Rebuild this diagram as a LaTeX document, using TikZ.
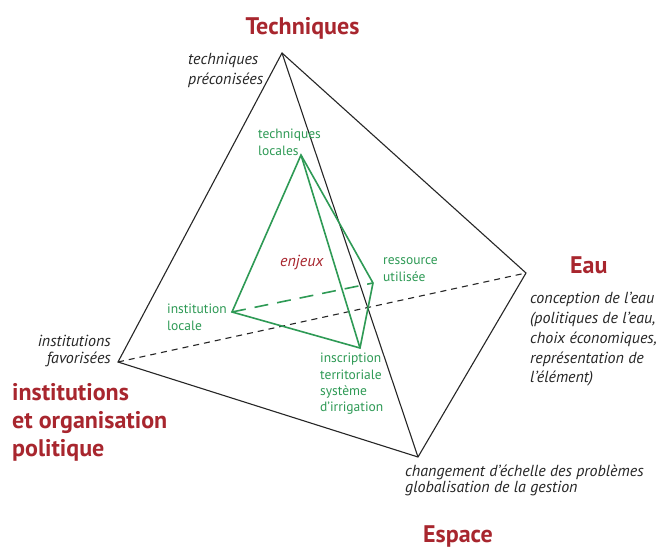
\documentclass[tikz,border=0pt]{standalone}
\usepackage{fontspec}
\setmainfont{PT Sans}
\definecolor{tred}{HTML}{A8262E}
\definecolor{tgreen}{HTML}{2E9A55}
\newcommand\blockL[1]{\begin{tabular}[t]{@{}l@{}}#1\end{tabular}}
\newcommand\blockR[1]{\begin{tabular}[t]{@{}r@{}}#1\end{tabular}}
\tikzset{
  titletext/.style={font=\fontsize{24}{28}\selectfont\bfseries, text=tred, inner sep=0pt},
  italtext/.style={font=\fontsize{16}{17}\selectfont\itshape, text=black!85, inner sep=0pt},
  greentext/.style={font=\fontsize{13.5}{16.3}\selectfont, text=tgreen, inner sep=0pt},
  outeredge/.style={line width=1.1pt, black!85},
  inneredge/.style={line width=1.6pt, tgreen},
}
\begin{document}
\begin{tikzpicture}[x=1pt, y=-1pt]
\fill[white] (0,0) rectangle (657,548);
\useasboundingbox (0,0) rectangle (657,548);
% vertices
\coordinate (T) at (282,53);
\coordinate (I) at (118,362);
\coordinate (E) at (526,273);
\coordinate (S) at (418,457);
\coordinate (t) at (301,155);
\coordinate (il) at (232,312);
\coordinate (ru) at (373,283);
\coordinate (is) at (360,348);
% outer tetrahedron
\draw[outeredge, dash pattern=on 6pt off 5pt] (I) -- (E);
\draw[outeredge, line join=miter] (T) -- (I) -- (S) -- (E) -- cycle;
\draw[outeredge] (T) -- (S);
% inner tetrahedron
\draw[inneredge, dash pattern=on 14pt off 9pt] (il) -- (ru);
\draw[inneredge, line join=miter] (t) -- (il) -- (is) -- (ru) -- cycle;
\draw[inneredge] (t) -- (is);
% labels
\node[titletext, anchor=base] (tT) at (302.5,35) {Techniques};
\node[italtext, font=\fontsize{16}{20}\selectfont\itshape, anchor=base west] (tp) at (188,65) {\blockL{techniques\\préconisées}};
\node[greentext, anchor=base west] (tl) at (258,139) {\blockL{techniques\\locales}};
\node[greentext, anchor=base west] (rul) at (383,265) {\blockL{ressource\\utilisée}};
\node[italtext, text=tred, anchor=base west] (en) at (280,267) {enjeux};
\node[greentext, anchor=base west] (ill) at (167,314) {\blockL{institution\\locale}};
\node[greentext, anchor=base west] (isl) at (320,363) {\blockL{inscription\\territoriale\\système\\d’irrigation}};
\node[italtext, anchor=base east] (ifl) at (111,347) {\blockR{institutions\\favorisées}};
\node[titletext, anchor=base west] (tI) at (12,401) {\blockL{institutions\\et organisation\\politique}};
\node[titletext, anchor=base west] (tE) at (570,274) {Eau};
\node[italtext, font=\fontsize{16}{19.7}\selectfont\itshape, anchor=base west] (ce) at (530,304) {\blockL{conception de l’eau\\(politiques de l’eau,\\choix économiques,\\représentation de\\l’élément)}};
\node[italtext, anchor=base west] (cg) at (405,476) {\blockL{changement d’échelle des problèmes\\globalisation de la gestion}};
\node[titletext, anchor=base west] (tS) at (423,542) {Espace};
\end{tikzpicture}
\end{document}
